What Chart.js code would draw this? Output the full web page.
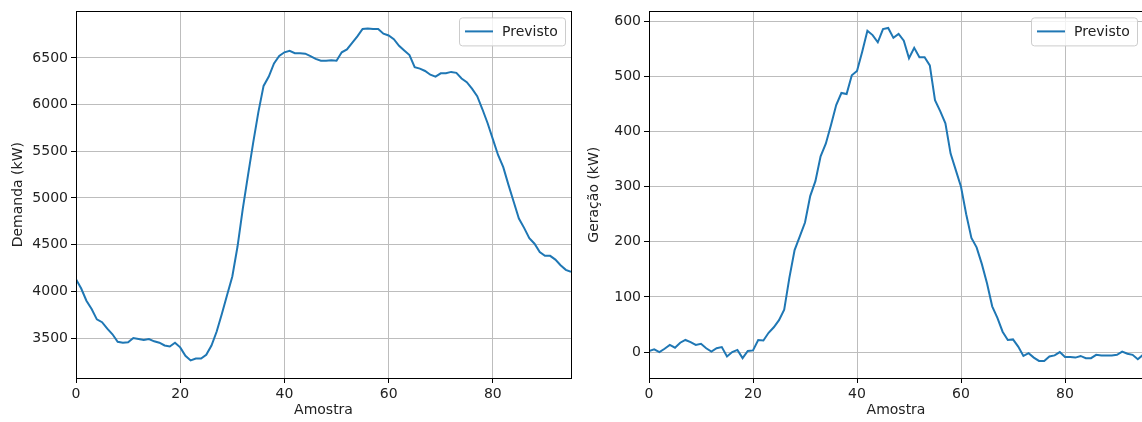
<!DOCTYPE html>
<html>
<head>
<meta charset="utf-8">
<script src="https://cdn.jsdelivr.net/npm/chart.js@4.4.1/dist/chart.umd.min.js"></script>
<style>
  html, body { margin: 0; padding: 0; background: #fff; overflow: hidden; width: 1142px; height: 422px; }
  .box { position: absolute; top: 0; height: 422px; }
</style>
</head>
<body>
<div class="box" style="left:0;width:580px"><canvas id="demanda"></canvas></div>
<div class="box" style="left:580px;width:570px"><canvas id="geracao"></canvas></div>
<script>
// valores (amostra 0..95)
const demanda = [
  4130, 4030, 3900, 3810, 3700, 3670, 3600, 3540, 3460, 3450,
  3455, 3500, 3490, 3480, 3490, 3465, 3450, 3420, 3410, 3450,
  3400, 3310, 3260, 3280, 3280, 3320, 3420, 3570, 3760, 3960,
  4160, 4480, 4880, 5240, 5590, 5920, 6200, 6300, 6440, 6520,
  6560, 6575, 6550, 6550, 6545, 6520, 6490, 6470, 6470, 6475,
  6470, 6560, 6590, 6660, 6730, 6810, 6815, 6810, 6810, 6760,
  6740, 6700, 6630, 6580, 6530, 6400, 6385, 6360, 6320, 6300,
  6335, 6335, 6350, 6340, 6280, 6240, 6170, 6090, 5950, 5800,
  5630, 5460, 5330, 5140, 4960, 4780, 4680, 4570, 4510, 4420,
  4380, 4380, 4340, 4280, 4230, 4210
];
const geracao = [
  2, 5, 0, 6, 13, 8, 17, 22, 18, 13,
  15, 7, 1, 7, 9, -8, 0, 4, -11, 2,
  3, 22, 21, 35, 45, 58, 77, 135, 185, 210,
  235, 283, 310, 355, 378, 412, 448, 470, 468, 502,
  510, 545, 583, 575, 562, 586, 588, 570, 577, 565,
  533, 552, 535, 535, 520, 457, 437, 415, 360, 330,
  300, 250, 207, 190, 160, 125, 83, 62, 37, 22,
  23, 10, -7, -2, -10, -16, -16, -8, -6, 0,
  -9, -9, -10, -7, -11, -11, -5, -6, -6, -6,
  -5, 1, -3, -5, -13, -5
];
const xTicks = [0, 20, 40, 60, 80];
const demandaTicks = [3500, 4000, 4500, 5000, 5500, 6000, 6500];
const geracaoTicks = [0, 100, 200, 300, 400, 500, 600];

const FONT = { family: 'DejaVu Sans', size: 14 };
const TXT = '#222';

// moldura + legenda estilo matplotlib
const mplFrame = {
  id: 'mplFrame',
  afterDraw(chart) {
    const { ctx, chartArea: a } = chart;
    ctx.save();
    ctx.strokeStyle = '#000';
    ctx.lineWidth = 1;
    ctx.strokeRect(Math.round(a.left) + 0.5, Math.round(a.top) + 0.5,
      Math.round(a.right - a.left), Math.round(a.bottom - a.top));
    // legenda
    const ds = chart.data.datasets[0];
    const w = 106, h = 28;
    const bx = a.right - 6 - w, by = a.top + 6;
    ctx.fillStyle = 'rgba(255,255,255,0.8)';
    ctx.strokeStyle = '#cccccc';
    ctx.beginPath();
    ctx.roundRect(bx + 0.5, by + 0.5, w, h, 3);
    ctx.fill();
    ctx.stroke();
    ctx.strokeStyle = ds.borderColor;
    ctx.lineWidth = 2;
    ctx.beginPath();
    ctx.moveTo(bx + 6, by + 14);
    ctx.lineTo(bx + 34, by + 14);
    ctx.stroke();
    ctx.fillStyle = TXT;
    ctx.font = '14px "DejaVu Sans"';
    ctx.textBaseline = 'middle';
    ctx.fillText(ds.label, bx + 43, by + 14.5);
    ctx.restore();
  }
};

function makeChart(id, values, yTicks, yMin, yMax, yLabel, yWidth, titlePad, top, right) {
  return new Chart(document.getElementById(id), {
    type: 'line',
    data: {
      datasets: [{
        label: 'Previsto',
        data: values.map((v, i) => ({ x: i, y: v })),
        borderColor: '#1f77b4',
        borderWidth: 2,
        pointRadius: 0,
        tension: 0
      }]
    },
    options: {
      responsive: true,
      maintainAspectRatio: false,
      animation: false,
      layout: { padding: { top: top, right: right, left: 0, bottom: 0 } },
      plugins: { legend: { display: false }, tooltip: { enabled: false } },
      scales: {
        x: {
          type: 'linear',
          min: 0,
          max: 95,
          afterBuildTicks: s => { s.ticks = xTicks.map(v => ({ value: v })); },
          afterFit: s => { s.height = 44; },
          ticks: { color: TXT, font: FONT, padding: 3, maxRotation: 0, callback: v => String(v) },
          grid: { color: '#bdbdbd', lineWidth: 1, tickColor: '#000', tickLength: 5 },
          border: { color: '#000', width: 1 },
          title: { display: true, text: 'Amostra', color: TXT, font: FONT, padding: { top: 2, bottom: 3 } }
        },
        y: {
          min: yMin,
          max: yMax,
          afterBuildTicks: s => { s.ticks = yTicks.map(v => ({ value: v })); },
          afterFit: s => { s.width = yWidth; },
          ticks: { color: TXT, font: FONT, padding: 3, callback: v => String(v) },
          grid: { color: '#bdbdbd', lineWidth: 1, tickColor: '#000', tickLength: 5 },
          border: { color: '#000', width: 1 },
          title: { display: true, text: yLabel, color: TXT, font: FONT, padding: { top: titlePad, bottom: 0 } }
        }
      }
    },
    plugins: [mplFrame]
  });
}

makeChart('demanda', demanda, demandaTicks, 3072, 6998, 'Demanda (kW)', 76, 10, 10, 9);
makeChart('geracao', geracao, geracaoTicks, -47, 618, 'Geração (kW)', 69, 6, 8, 7);
</script>
</body>
</html>
